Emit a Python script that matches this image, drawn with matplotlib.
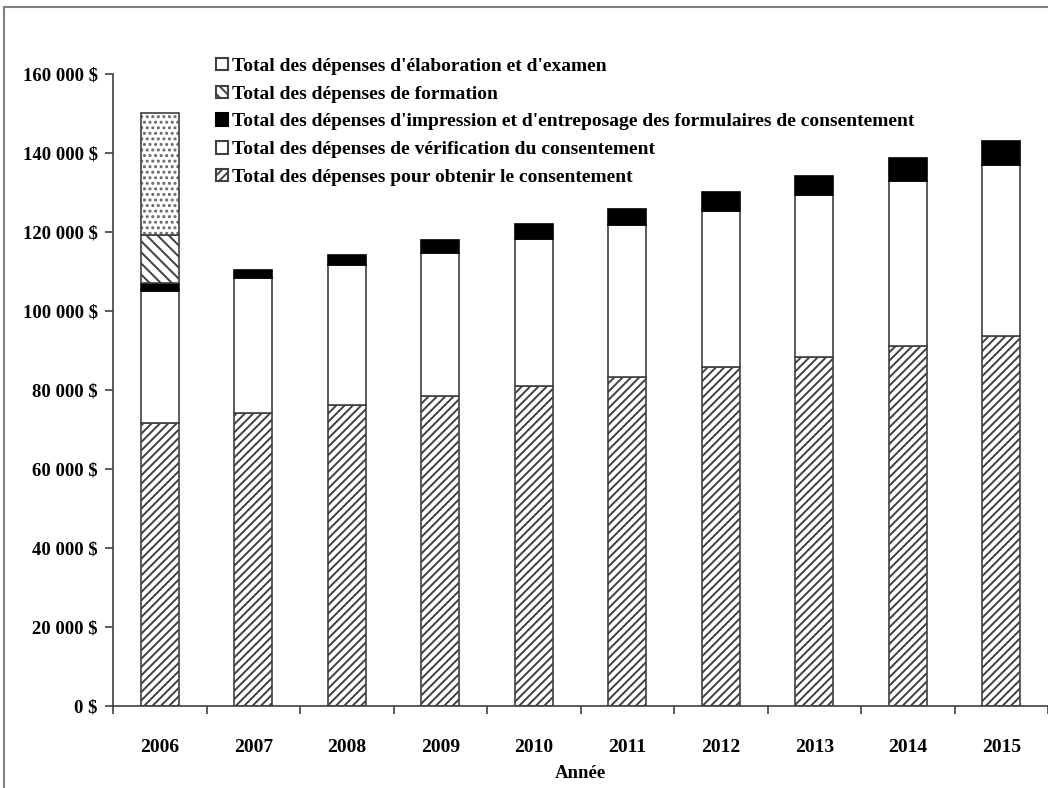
import numpy as np
import matplotlib
matplotlib.use("Agg")
import matplotlib.pyplot as plt
from matplotlib.patches import Rectangle
from matplotlib.ticker import FuncFormatter

plt.rcParams["font.family"] = ["Liberation Serif", "DejaVu Serif"]
plt.rcParams["font.weight"] = "bold"
plt.rcParams["hatch.linewidth"] = 1.4

annees = ["2006", "2007", "2008", "2009", "2010", "2011", "2012", "2013", "2014", "2015"]
consentement = [71700, 74200, 76300, 78600, 80900, 83300, 85800, 88400, 91100, 93700]
verification = [33300, 34200, 35300, 36100, 37400, 38400, 39600, 40900, 41900, 43300]
impression = [2100, 2000, 2600, 3300, 3700, 4100, 4600, 4900, 5700, 6100]
formation = [12100, 0, 0, 0, 0, 0, 0, 0, 0, 0]
elaboration = [30800, 0, 0, 0, 0, 0, 0, 0, 0, 0]

noms = [
    "Total des dépenses d'élaboration et d'examen",
    "Total des dépenses de formation",
    "Total des dépenses d'impression et d'entreposage des formulaires de consentement",
    "Total des dépenses de vérification du consentement",
    "Total des dépenses pour obtenir le consentement",
]

fig = plt.figure(figsize=(10.48, 7.88), dpi=100)
ax = fig.add_axes([113 / 1048, 1 - 706 / 788, 1 - 113 / 1048, (706 - 74) / 788])

x = np.arange(len(annees))
w = 0.41
edge = "#404040"
lw = 1.2

b0 = np.zeros(len(annees))
h1 = ax.bar(x, consentement, w, bottom=b0, color="white", edgecolor=edge, hatch="////", linewidth=lw)
b1 = b0 + np.array(consentement)
h2 = ax.bar(x, verification, w, bottom=b1, color="white", edgecolor=edge, linewidth=lw)
b2 = b1 + np.array(verification)
h3 = ax.bar(x, impression, w, bottom=b2, color="black", edgecolor="black", linewidth=lw)
b3 = b2 + np.array(impression)
h4 = ax.bar(x[:1], formation[:1], w, bottom=b3[:1], color="white", edgecolor=edge, hatch="\\\\\\", linewidth=lw)
b4 = b3 + np.array(formation)
# motif pointillé gris puis contour foncé
ax.bar(x[:1], elaboration[:1], w, bottom=b4[:1], color="white", edgecolor="#666666", hatch="...", linewidth=0)
h5 = ax.bar(x[:1], elaboration[:1], w, bottom=b4[:1], color="none", edgecolor=edge, linewidth=lw)

ax.set_xlim(-0.5, len(annees) - 0.5)
ax.set_ylim(0, 160000)
ax.set_yticks(np.arange(0, 160001, 20000))
ax.yaxis.set_major_formatter(FuncFormatter(lambda v, p: f"{int(v):,} $".replace(",", " ")))
ax.set_xticks(x)
ax.set_xticklabels(annees)
ax.set_xticks(np.arange(-0.5, len(annees), 1), minor=True)
ax.tick_params(axis="x", which="major", length=0, pad=24, labelsize=14)
ax.tick_params(axis="x", which="minor", length=6, color=edge, width=1.2)
ax.tick_params(axis="y", length=6, color=edge, width=1.2, pad=5, labelsize=13.5)

for s in ["top", "right"]:
    ax.spines[s].set_visible(False)
for s in ["left", "bottom"]:
    ax.spines[s].set_color(edge)
    ax.spines[s].set_linewidth(1.2)

ax.set_xlabel("Année", fontsize=13.5, fontweight="bold", labelpad=6)

leg = fig.legend(
    [h5, h4, h3, h2, h1], noms,
    loc="upper left", bbox_to_anchor=(216 / 1048, 1 - 58 / 788),
    frameon=False, fontsize=14, handlelength=0.6, handleheight=0.6,
    handletextpad=0.2, labelspacing=0.55, borderpad=0, borderaxespad=0,
)
for p in leg.get_patches():
    p.set_linewidth(1.5)

fig.patches.append(Rectangle((4 / 1048, -0.1), 1.2, 1.1 - 7 / 788, transform=fig.transFigure,
                             fill=False, edgecolor="#808080", linewidth=1.5))

fig.savefig("out.png", dpi=100, facecolor="white")
